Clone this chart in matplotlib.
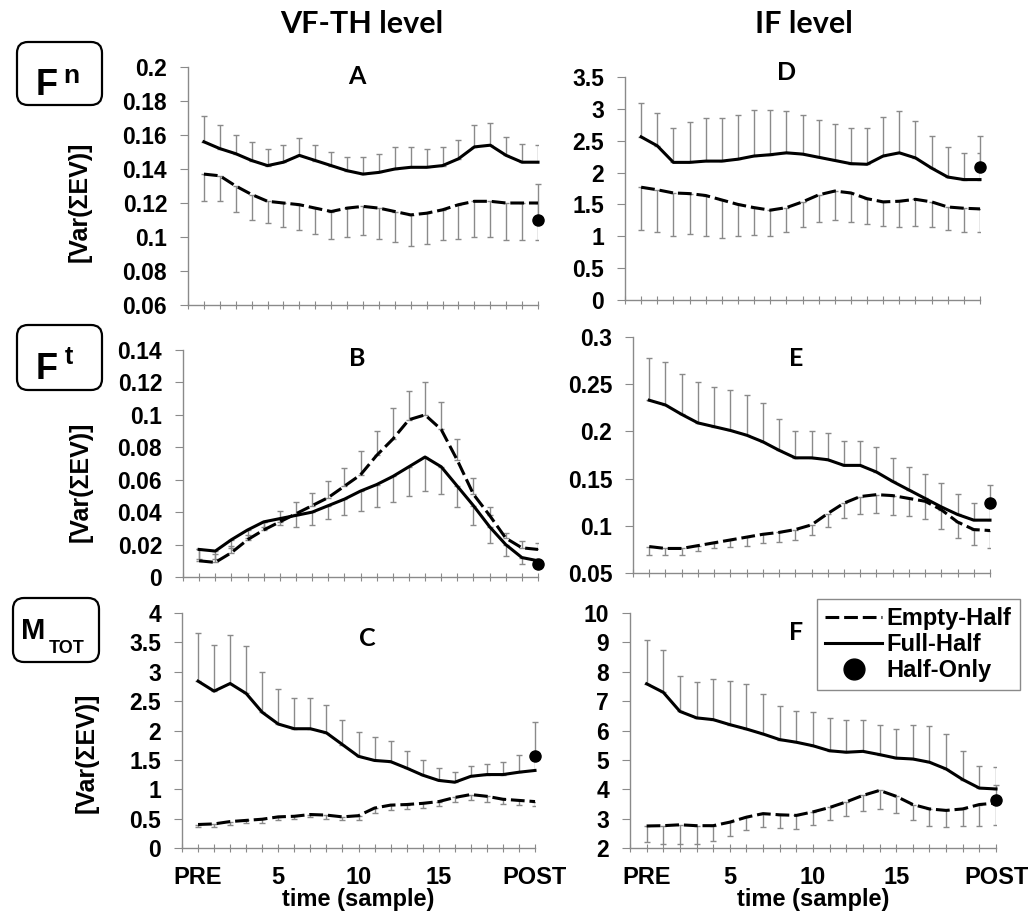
import numpy as np
import matplotlib
matplotlib.use("Agg")
import matplotlib.pyplot as plt
from matplotlib.patches import FancyBboxPatch
from matplotlib.lines import Line2D
from matplotlib.ticker import FuncFormatter
from matplotlib.transforms import IdentityTransform

plt.rcParams['font.family'] = ['Liberation Sans', 'DejaVu Sans']
plt.rcParams['font.weight'] = 'bold'

W, H = 1032, 916
x = np.arange(1, 23)   # PRE, samples 1..20, POST
xtick_pos = [1, 6, 11, 16, 22]
xtick_lab = ['PRE', '5', '10', '15', 'POST']

# ---- A : Fn, VF-TH level
a_full = [0.156, 0.152, 0.149, 0.145, 0.142, 0.144, 0.148, 0.145, 0.142, 0.139, 0.137,
          0.138, 0.140, 0.141, 0.141, 0.142, 0.146, 0.153, 0.154, 0.148, 0.144, 0.144]
a_full_err = [0.015, 0.014, 0.011, 0.011, 0.010, 0.010, 0.010, 0.009, 0.008, 0.008, 0.010,
              0.011, 0.013, 0.012, 0.011, 0.011, 0.011, 0.013, 0.013, 0.011, 0.011, 0.010]
a_empty = [0.137, 0.136, 0.130, 0.125, 0.121, 0.120, 0.119, 0.117, 0.115, 0.117, 0.118,
           0.117, 0.115, 0.113, 0.114, 0.116, 0.119, 0.121, 0.121, 0.120, 0.120, 0.120]
a_empty_err = [0.016, 0.015, 0.015, 0.015, 0.013, 0.014, 0.015, 0.015, 0.016, 0.017, 0.017,
               0.018, 0.018, 0.018, 0.018, 0.018, 0.020, 0.021, 0.021, 0.022, 0.022, 0.022]
a_only, a_only_err = 0.110, 0.021

# ---- D : Fn, IF level
d_full = [2.56, 2.42, 2.16, 2.16, 2.18, 2.18, 2.21, 2.26, 2.28, 2.31, 2.29,
          2.24, 2.19, 2.14, 2.13, 2.26, 2.31, 2.23, 2.07, 1.93, 1.89, 1.89]
d_full_err = [0.53, 0.52, 0.54, 0.63, 0.68, 0.68, 0.70, 0.72, 0.70, 0.66, 0.61,
              0.58, 0.57, 0.56, 0.57, 0.61, 0.65, 0.58, 0.50, 0.47, 0.42, 0.42]
d_empty = [1.77, 1.73, 1.68, 1.67, 1.64, 1.57, 1.50, 1.45, 1.41, 1.45, 1.54,
           1.65, 1.71, 1.68, 1.59, 1.54, 1.55, 1.58, 1.54, 1.46, 1.44, 1.43]
d_empty_err = [0.67, 0.66, 0.68, 0.64, 0.64, 0.59, 0.50, 0.43, 0.41, 0.38, 0.40,
               0.42, 0.45, 0.45, 0.40, 0.38, 0.40, 0.42, 0.40, 0.36, 0.37, 0.36]
d_only, d_only_err = 2.09, 0.48

# ---- B : Ft, VF-TH level
b_full = [0.017, 0.016, 0.023, 0.029, 0.034, 0.036, 0.038, 0.040, 0.044, 0.048, 0.053,
          0.057, 0.062, 0.068, 0.074, 0.068, 0.056, 0.044, 0.031, 0.020, 0.012, 0.010]
b_full_err = [0.006, 0.005, 0.005, 0.005, 0.003, 0.004, 0.007, 0.008, 0.008, 0.010, 0.012,
              0.014, 0.016, 0.018, 0.021, 0.017, 0.013, 0.012, 0.010, 0.007, 0.004, 0.002]
b_empty = [0.010, 0.009, 0.015, 0.023, 0.029, 0.034, 0.039, 0.044, 0.049, 0.056, 0.063,
           0.075, 0.085, 0.097, 0.100, 0.091, 0.072, 0.051, 0.038, 0.024, 0.018, 0.017]
b_empty_err = [0.007, 0.005, 0.004, 0.003, 0.005, 0.007, 0.007, 0.008, 0.010, 0.011, 0.015,
               0.015, 0.019, 0.018, 0.020, 0.017, 0.013, 0.010, 0.005, 0.003, 0.004, 0.004]
b_only, b_only_err = 0.008, 0.002

# ---- E : Ft, IF level
e_full = [0.233, 0.228, 0.218, 0.209, 0.205, 0.201, 0.196, 0.189, 0.180, 0.172, 0.172,
          0.170, 0.164, 0.164, 0.157, 0.147, 0.138, 0.129, 0.120, 0.112, 0.106, 0.106]
e_full_err = [0.045, 0.045, 0.043, 0.043, 0.042, 0.043, 0.043, 0.041, 0.033, 0.028, 0.028,
              0.028, 0.026, 0.026, 0.026, 0.025, 0.024, 0.026, 0.025, 0.022, 0.018, 0.018]
e_empty = [0.078, 0.076, 0.076, 0.079, 0.082, 0.085, 0.088, 0.091, 0.093, 0.096, 0.101,
           0.113, 0.124, 0.131, 0.133, 0.132, 0.129, 0.126, 0.117, 0.104, 0.096, 0.095]
e_empty_err = [0.009, 0.007, 0.007, 0.006, 0.006, 0.007, 0.009, 0.009, 0.010, 0.011, 0.011,
               0.014, 0.016, 0.019, 0.019, 0.021, 0.019, 0.019, 0.020, 0.017, 0.016, 0.018]
e_only, e_only_err = 0.124, 0.019

# ---- C : MTOT, VF-TH level
c_full = [2.84, 2.67, 2.80, 2.63, 2.31, 2.11, 2.03, 2.03, 1.96, 1.76, 1.56,
          1.49, 1.47, 1.36, 1.24, 1.15, 1.12, 1.22, 1.25, 1.25, 1.29, 1.32]
c_full_err = [0.82, 0.79, 0.82, 0.81, 0.69, 0.59, 0.53, 0.53, 0.48, 0.42, 0.41,
              0.40, 0.35, 0.29, 0.25, 0.21, 0.17, 0.17, 0.18, 0.22, 0.30, 0.30]
c_empty = [0.40, 0.41, 0.45, 0.47, 0.49, 0.53, 0.54, 0.57, 0.56, 0.53, 0.55,
           0.68, 0.73, 0.74, 0.76, 0.79, 0.86, 0.91, 0.88, 0.83, 0.81, 0.79]
c_empty_err = [0.04, 0.05, 0.05, 0.05, 0.06, 0.06, 0.05, 0.05, 0.06, 0.06, 0.08,
               0.08, 0.08, 0.08, 0.08, 0.08, 0.08, 0.10, 0.10, 0.08, 0.08, 0.08]
c_only, c_only_err = 1.56, 0.58

# ---- F : MTOT, IF level
f_full = [7.59, 7.30, 6.65, 6.43, 6.37, 6.20, 6.05, 5.88, 5.69, 5.60, 5.48,
          5.31, 5.26, 5.29, 5.18, 5.06, 5.03, 4.92, 4.69, 4.33, 4.04, 4.01]
f_full_err = [1.48, 1.43, 1.22, 1.21, 1.38, 1.50, 1.53, 1.36, 1.13, 1.08, 1.14,
              1.12, 1.09, 1.08, 1.02, 0.99, 1.15, 1.24, 1.19, 0.98, 0.74, 0.75]
f_empty = [2.75, 2.76, 2.79, 2.76, 2.76, 2.88, 3.05, 3.17, 3.13, 3.11, 3.23,
           3.38, 3.57, 3.79, 3.96, 3.76, 3.48, 3.33, 3.28, 3.33, 3.48, 3.53]
f_empty_err = [0.56, 0.61, 0.64, 0.61, 0.53, 0.46, 0.45, 0.47, 0.45, 0.46, 0.44,
               0.42, 0.49, 0.54, 0.62, 0.57, 0.54, 0.59, 0.57, 0.59, 0.72, 0.74]
f_only, f_only_err = 3.65, 0.50

fig = plt.figure(figsize=(W / 100, H / 100), dpi=100)

def px_rect(l, t, r, b):
    return [l / W, 1 - b / H, (r - l) / W, (b - t) / H]

def ftext(xp, yp, s, **kw):
    return fig.text(xp / W, 1 - yp / H, s, **kw)

GRAY = '#8a8a8a'
DASH = (0, (4.5, 1.6))

# panel: (rect px, ylim, ystep, data..., empty error goes up?, letter, letter pos, bottom row?)
panels = [
    ((188, 67, 538, 305), (0.06, 0.2), 0.02, a_full, a_full_err, a_empty, a_empty_err,
     a_only, a_only_err, False, 'A', (357, 76), False),
    ((625, 77, 980, 300), (0, 3.5), 0.5, d_full, d_full_err, d_empty, d_empty_err,
     d_only, d_only_err, False, 'D', (787, 72), False),
    ((183, 350, 538, 577), (0, 0.14), 0.02, b_full, b_full_err, b_empty, b_empty_err,
     b_only, b_only_err, True, 'B', (357, 358), False),
    ((633, 337, 990, 573), (0.05, 0.3), 0.05, e_full, e_full_err, e_empty, e_empty_err,
     e_only, e_only_err, False, 'E', (796, 359), False),
    ((182, 613, 535, 848), (0, 4), 0.5, c_full, c_full_err, c_empty, c_empty_err,
     c_only, c_only_err, False, 'C', (367, 638), True),
    ((630, 613, 996, 848), (2, 10), 1, f_full, f_full_err, f_empty, f_empty_err,
     f_only, f_only_err, False, 'F', (796, 632), True),
]

fmt = FuncFormatter(lambda v, p: '%g' % round(v, 4))
zeros = np.zeros(len(x))

for (rect, ylim, ystep, full, full_err, empty, empty_err, only, only_err,
     empty_up, letter, lpos, bottom) in panels:
    ax = fig.add_axes(px_rect(*rect))
    full_yerr = [full_err, zeros] if empty_up else [zeros, full_err]
    empty_yerr = [zeros, empty_err] if empty_up else [empty_err, zeros]
    ekw = dict(fmt='none', ecolor=GRAY, elinewidth=1.0, capsize=2.5, capthick=1.0)
    ax.errorbar(x, full, yerr=full_yerr, **ekw)
    ax.errorbar(x, empty, yerr=empty_yerr, **ekw)
    ax.errorbar([22], [only], yerr=[[0], [only_err]], clip_on=False, **ekw)
    ax.plot(x, empty, color='black', lw=2.2, ls=DASH, clip_on=False)
    ax.plot(x, full, color='black', lw=2.2, clip_on=False)
    ax.plot([22], [only], 'o', color='black', ms=8, clip_on=False, zorder=5)

    ax.set_xlim(0, 22)
    ax.set_ylim(*ylim)
    ax.set_yticks(np.arange(ylim[0], ylim[1] + ystep / 2, ystep))
    ax.yaxis.set_major_formatter(fmt)
    ax.set_xticks(range(23))
    if bottom:
        ax.set_xticklabels([xtick_lab[xtick_pos.index(i)] if i in xtick_pos else ''
                            for i in range(23)])
        ax.set_xlabel('time (sample)', fontsize=17, fontweight='bold', labelpad=-1)
    else:
        ax.set_xticklabels([])
    for s in ['top', 'right']:
        ax.spines[s].set_visible(False)
    for s in ['left', 'bottom']:
        ax.spines[s].set_color(GRAY)
        ax.spines[s].set_linewidth(1.0)
    ax.tick_params(axis='y', direction='out', length=6, color=GRAY, labelsize=16.5, pad=9)
    ax.tick_params(axis='x', direction='inout', length=6, color=GRAY, labelsize=17, pad=10)
    for lab in ax.get_xticklabels() + ax.get_yticklabels():
        lab.set_fontweight('bold')
    ftext(lpos[0], lpos[1], letter, family=['Lato', 'DejaVu Sans'], fontsize=18,
          fontweight='bold', ha='center', va='center')

# column titles
ftext(362, 24, 'VF-TH level', family=['Lato', 'DejaVu Sans'], fontsize=22,
      fontweight='bold', ha='center', va='center')
ftext(804, 24, 'IF level', family=['Lato', 'DejaVu Sans'], fontsize=22,
      fontweight='bold', ha='center', va='center')

# y labels
for yc in [(80, 202), (81, 482), (87, 753)]:
    ftext(yc[0], yc[1], '[Var(ΣEV)]', fontsize=18, fontweight='bold', rotation=90,
          ha='center', va='center')

# row label boxes
for (l, t, r, b) in [(17, 42, 102, 105), (17, 325, 102, 390), (13, 598, 99, 662)]:
    box = FancyBboxPatch((l, H - b), r - l, b - t,
                         boxstyle='round,pad=0,rounding_size=11',
                         transform=IdentityTransform(), fill=False, lw=1.6, ec='black')
    fig.add_artist(box)
ftext(36, 95, 'F', fontsize=26, fontweight='bold', va='baseline')
ftext(63, 83, 'n', fontsize=19, fontweight='bold', va='baseline')
ftext(36, 379, 'F', fontsize=26, fontweight='bold', va='baseline')
ftext(65, 364, 't', fontsize=18, fontweight='bold', va='baseline')
ftext(21, 639, 'M', fontsize=21, fontweight='bold', va='baseline')
ftext(49, 653, 'TOT', fontsize=13, fontweight='bold', va='baseline')

# legend
handles = [Line2D([], [], color='black', lw=2.2, ls=DASH),
           Line2D([], [], color='black', lw=2.2),
           Line2D([], [], color='black', ls='none', marker='o', ms=15)]
leg = fig.legend(handles, ['Empty-Half', 'Full-Half', 'Half-Only'], loc='upper left',
                 bbox_to_anchor=(817 / W, 1 - 599 / H), fontsize=17, frameon=True,
                 fancybox=False, edgecolor=GRAY, framealpha=1, handlelength=2.4,
                 handletextpad=0.2, labelspacing=0.12, borderpad=0.35, borderaxespad=0)
leg.get_frame().set_linewidth(1.0)
for t in leg.get_texts():
    t.set_fontweight('bold')

fig.savefig('out.png', dpi=100)
